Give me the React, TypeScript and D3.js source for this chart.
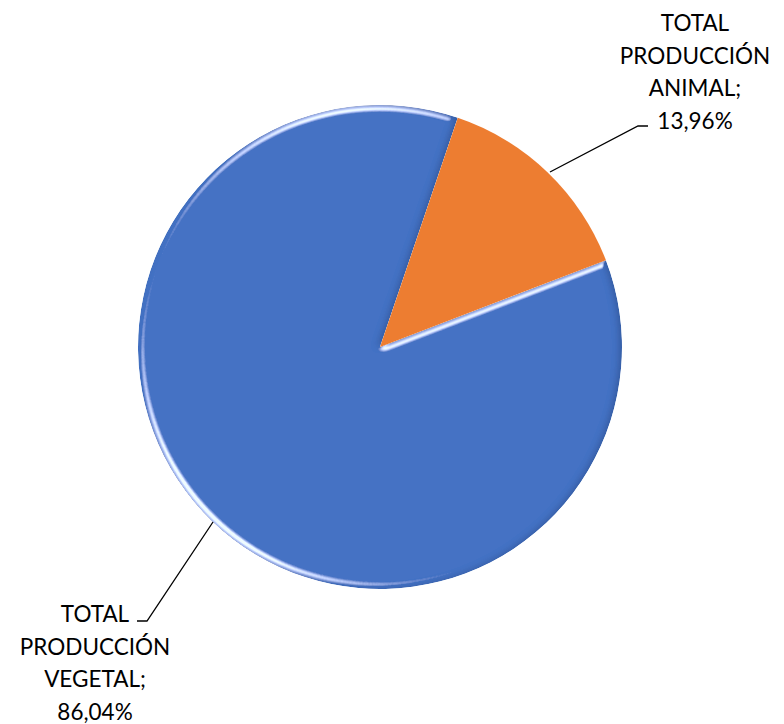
import React from 'react';
import * as d3 from 'd3';

const categories = ['TOTAL PRODUCCIÓN VEGETAL', 'TOTAL PRODUCCIÓN ANIMAL'];
const values = [86.04, 13.96];
const labelLines = [
  ['TOTAL', 'PRODUCCIÓN', 'VEGETAL;', '86,04%'],
  ['TOTAL', 'PRODUCCIÓN', 'ANIMAL;', '13,96%'],
];
const colors = ['#4472C4', '#ED7D31'];

const W = 784;
const H = 724;
const cx = 380;
const cy = 347;
const R = 242;

export default function App() {
  const pie = d3
    .pie<number>()
    .sort(null)
    .startAngle((69 * Math.PI) / 180)
    .endAngle((69 * Math.PI) / 180 + 2 * Math.PI);
  const arcs = pie(values);
  const arc = d3.arc<d3.PieArcDatum<number>>().innerRadius(0).outerRadius(R);

  // label text centres and leader lines
  const labels = [
    { x: 95, y0: 622, leader: [[213, 522], [147, 621], [137, 621]] },
    { x: 695, y0: 31, leader: [[550, 172], [638, 126], [648, 126]] },
  ];

  const transfer = (
    <>
      <feFuncR type="linear" slope="1.6" intercept="-0.25" />
      <feFuncG type="linear" slope="1.6" intercept="-0.25" />
      <feFuncB type="linear" slope="1.6" intercept="-0.25" />
      <feFuncA type="linear" slope="1.6" intercept="-0.25" />
    </>
  );

  return (
    <svg width={W} height={H} style={{ position: 'absolute', left: 0, top: 0 }}>
      <defs>
        <filter id="bevel" x="-10%" y="-10%" width="120%" height="120%">
          <feGaussianBlur in="SourceAlpha" stdDeviation="3" result="blur" />
          <feSpecularLighting in="blur" surfaceScale="4" specularConstant="1" specularExponent="20" lightingColor="#ffffff" result="spec1">
            <feDistantLight azimuth="135" elevation="35" />
          </feSpecularLighting>
          <feComponentTransfer in="spec1" result="s1">{transfer}</feComponentTransfer>
          <feSpecularLighting in="blur" surfaceScale="4" specularConstant="0.8" specularExponent="20" lightingColor="#ffffff" result="spec2">
            <feDistantLight azimuth="260" elevation="35" />
          </feSpecularLighting>
          <feComponentTransfer in="spec2" result="s2">{transfer}</feComponentTransfer>
          <feMerge result="specAll">
            <feMergeNode in="s1" />
            <feMergeNode in="s2" />
          </feMerge>
          <feComposite in="specAll" in2="SourceAlpha" operator="in" result="specOut" />
          {/* dark inner shadow on the right side */}
          <feOffset in="blur" dx="-3" dy="0" result="off" />
          <feComposite in="SourceAlpha" in2="off" operator="out" result="rim" />
          <feFlood floodColor="#1d3a70" floodOpacity="0.5" />
          <feComposite in2="rim" operator="in" result="shadow" />
          <feMerge result="shaded">
            <feMergeNode in="SourceGraphic" />
            <feMergeNode in="shadow" />
          </feMerge>
          <feComposite in="shaded" in2="specOut" operator="arithmetic" k1="0" k2="1" k3="0.8" k4="0" result="lit" />
          <feComposite in="lit" in2="SourceAlpha" operator="in" />
        </filter>
      </defs>
      <rect width={W} height={H} fill="#fff" />
      <g transform={`translate(${cx},${cy})`}>
        {arcs.map((a, i) => (
          <path
            key={categories[i]}
            d={arc(a) || ''}
            fill={colors[i]}
            filter={i === 0 ? 'url(#bevel)' : undefined}
          />
        ))}
      </g>
      {labels.map((l, i) => (
        <g key={i}>
          <polyline
            points={l.leader.map((p) => p.join(',')).join(' ')}
            fill="none"
            stroke="#000"
            strokeWidth={1.3}
          />
          <text
            fontFamily="Lato, 'Open Sans', sans-serif"
            fontSize={22.5}
            fill="#000"
            textAnchor="middle"
          >
            {labelLines[i].map((t, j) => (
              <tspan key={j} x={l.x} y={l.y0 + j * 32.5}>
                {t}
              </tspan>
            ))}
          </text>
        </g>
      ))}
    </svg>
  );
}
